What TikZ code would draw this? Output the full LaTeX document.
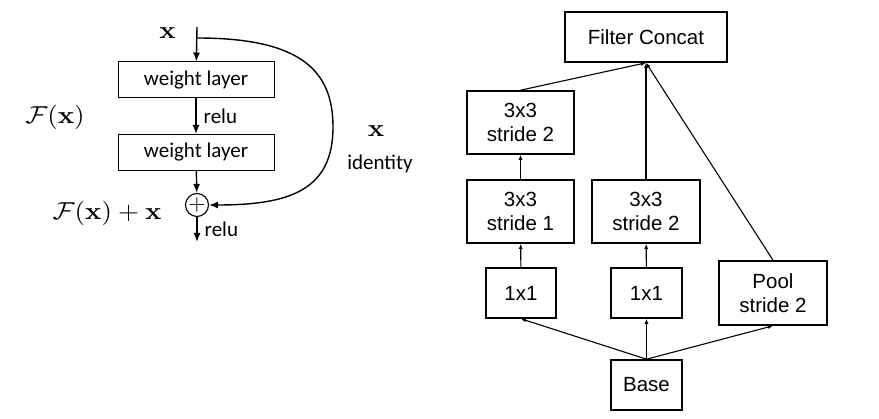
\documentclass[tikz,border=0pt]{standalone}
\usepackage{amsmath,bm}
\usepackage[no-math]{fontspec}
\setsansfont{Liberation Sans}
\newfontfamily\calibri{Carlito}
\usepackage{tikz}
\usetikzlibrary{arrows.meta}

\begin{document}
\begin{tikzpicture}[x=1pt,y=-1pt,
	layer node/.style={draw, line width=1pt, minimum width=156pt, minimum height=36pt, inner sep=0pt, font=\calibri\fontsize{21}{24}\selectfont},
	conv node/.style={draw, line width=1.6pt, inner sep=0pt, align=center, font=\sffamily\fontsize{20.5}{24}\selectfont},
	math label/.style={xscale=2.7, yscale=2.45, inner sep=1pt},
	text label/.style={font=\calibri\fontsize{21}{24}\selectfont, inner sep=2pt},
	res/.style={-{Latex[length=9pt,width=7pt]}, line width=1.4pt},
	flow/.style={-{Latex[length=5pt,width=4pt]}, line width=1.1pt}]
	\useasboundingbox (0,0) rectangle (879,419);
	
	% Residual block
	\node[layer node] (1) at (196,80) {weight layer};
	\node[layer node] (2) at (196,152.5) {weight layer};
	\node[circle, draw, line width=1.1pt, minimum size=23pt, inner sep=0pt] (3) at (197,205) {};
	\node[scale=2.2, inner sep=0pt] (plus) at (3.center) {$+$};
	\coordinate (in) at (197,27);
	\coordinate (split) at (197,38);
	\coordinate (out) at (197,242);
	
	\node[math label] (4) at (167.5,33) {$\mathbf{x}$};
	\node[math label] (5) at (55,117) {$\mathcal{F}(\mathbf{x})$};
	\node[math label] (6) at (107,213) {$\mathcal{F}(\mathbf{x})+\mathbf{x}$};
	\node[math label] (7) at (376,131) {$\mathbf{x}$};
	\node[text label] (8) at (380,164) {identity};
	
	\draw[res] (in) -- (1);
	\draw[res] (1) -- (2) node[midway, right, xshift=5pt, text label] {relu};
	\draw[res] (2) -- (3);
	\draw[res] (3) -- (out) node[midway, right, xshift=5pt, text label] {relu};
	\draw[res] (split) .. controls (300,38) and (333,70) .. (333,127)
		.. controls (333,190) and (290,205) .. (3.east);
	
	% Inception grid reduction
	\node[conv node, minimum width=162pt, minimum height=50pt] (9) at (646,37) {Filter Concat};
	\node[conv node, minimum width=107pt, minimum height=63pt] (10) at (520.5,122.5) {3x3\\stride 2};
	\node[conv node, minimum width=107pt, minimum height=63pt] (11) at (520.5,211.5) {3x3\\stride 1};
	\node[conv node, minimum width=108pt, minimum height=63pt] (12) at (646,211.5) {3x3\\stride 2};
	\node[conv node, minimum width=70pt, minimum height=50pt] (13) at (521,293) {1x1};
	\node[conv node, minimum width=71pt, minimum height=50pt] (14) at (646.5,293) {1x1};
	\node[conv node, minimum width=108pt, minimum height=64pt] (15) at (773,293) {Pool\\stride 2};
	\node[conv node, minimum width=71pt, minimum height=50pt] (16) at (646.5,385) {Base};
	
	\path
	(16.north)
	edge[flow] (13.south)
	edge[flow] (14.south)
	edge[flow] (15.south)
	
	(13) edge[flow] (11)
	(14) edge[flow] (12)
	(11) edge[flow] (10)
	
	(10.north) edge[flow] (9.south)
	(12.north) edge[flow] (9.south)
	(15.north) edge[flow] (9.south);
	
\end{tikzpicture}
\end{document}
